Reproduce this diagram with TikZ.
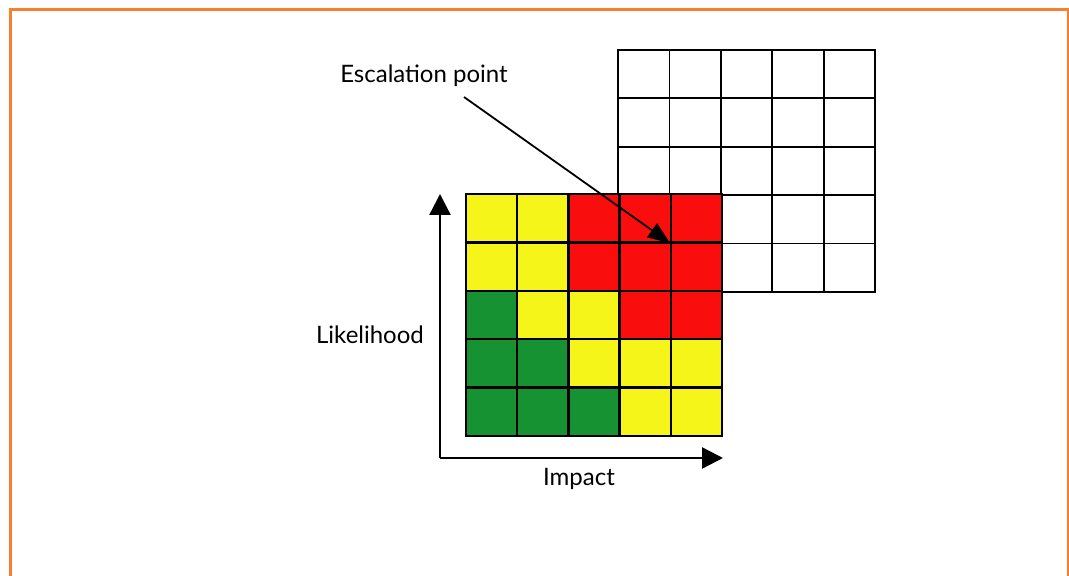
\documentclass[tikz,border=0pt]{standalone}
\usepackage{fontspec}
\setmainfont{Lato}
\usetikzlibrary{arrows.meta}
\definecolor{riskG}{HTML}{169233}
\definecolor{riskY}{HTML}{F5F51A}
\definecolor{riskR}{HTML}{F90D0D}
\definecolor{frameorange}{HTML}{F7802F}

\begin{document}
\begin{tikzpicture}[x=1pt, y=1pt,
	label text/.style={font=\fontsize{24}{28}\selectfont, inner sep=0pt},
	blank cell/.style={draw=black, line width=1.8pt},
	risk cell/.style={draw=black, line width=2.3pt},
	axis/.style={line width=2.4pt, arrows={-Triangle[length=21pt, width=21pt]}},
	pointer/.style={line width=1.8pt, arrows={-Triangle[length=22pt, width=17pt]}}]
	\useasboundingbox (0,0) rectangle (1069,576);
	\draw [frameorange, line width=3pt] (10,-5) -- (10,566) -- (1068,566) -- (1068,-5);
	% empty grid behind
	\foreach \i in {0,...,4}
		\foreach \j in {0,...,4}
			\draw [blank cell] ({618+\i*51.4},{284+\j*48.4}) rectangle +(51.4,48.4);
	% risk matrix, rows from the top
	\foreach \r/\cl in {0/{Y,Y,R,R,R}, 1/{Y,Y,R,R,R}, 2/{G,Y,Y,R,R}, 3/{G,G,Y,Y,Y}, 4/{G,G,G,Y,Y}}
		\foreach \c [count=\i from 0] in \cl
			\draw [risk cell, fill=risk\c] ({466+\i*51.2},{382-\r*48.4}) rectangle +(51.2,-48.4);
	% axes
	\coordinate (origin) at (440,118);
	\coordinate (ytip) at (440,382);
	\coordinate (xtip) at (723,118);
	\draw [axis] (origin) -- (ytip);
	\draw [axis] (origin) -- (xtip);
	\node [label text] (likelihood) at (370,241) {Likelihood};
	\node [label text] (impact) at (579,97) {Impact};
	\node [label text] (escalation) at (424,500) {Escalation point};
	\coordinate (esc start) at (464,479);
	\coordinate (esc tip) at (670,333);
	\draw [pointer] (esc start) -- (esc tip);
\end{tikzpicture}
\end{document}
